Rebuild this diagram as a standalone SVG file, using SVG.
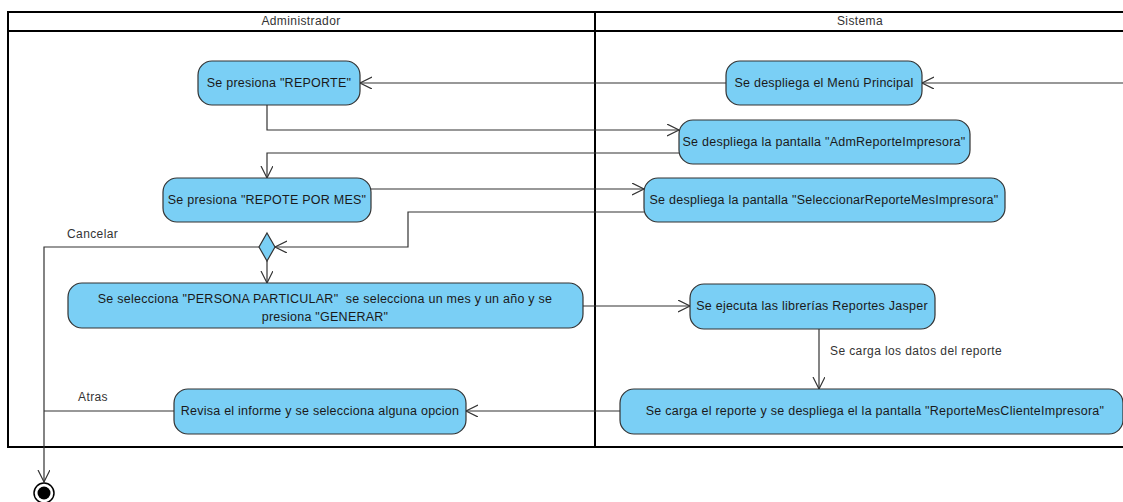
<svg xmlns="http://www.w3.org/2000/svg" width="1123" height="502" viewBox="0 0 1123 502">
<style>
.lane{fill:none;stroke:#000;stroke-width:2}
.act{fill:#7acff5;stroke:#333;stroke-width:1.2}
.t{font-family:"Liberation Sans",Arial,sans-serif;font-size:12.5px;letter-spacing:0.25px;fill:#1a1a1a;text-anchor:middle}
.h{font-family:"Liberation Sans",Arial,sans-serif;font-size:12px;letter-spacing:0.4px;fill:#333;text-anchor:middle}
.lbl{font-family:"Liberation Sans",Arial,sans-serif;font-size:12px;letter-spacing:0.4px;fill:#333}
.c{fill:none;stroke:#333;stroke-width:1.2}
</style>
<defs>
<marker id="arr" markerUnits="userSpaceOnUse" markerWidth="14" markerHeight="14" refX="12" refY="6" orient="auto" viewBox="0 0 14 14">
<path d="M0,0 L12,6 L0,12" fill="none" stroke="#333" stroke-width="1.2"/>
</marker>
</defs>
<rect width="1123" height="502" fill="#fff"/>
<g id="swimlanes">
<path class="lane" d="M1130,12 H8 V447 H1130"/>
<path class="lane" d="M8,31 H1130"/>
<path class="lane" d="M595,12 V447"/>
<text class="h" x="301" y="25">Administrador</text>
<text class="h" x="860" y="25">Sistema</text>
</g>
<g id="connectors">
<path class="c" d="M1123,83 H922" marker-end="url(#arr)"/>
<path class="c" d="M726,83 H360" marker-end="url(#arr)"/>
<path class="c" d="M267,105 V130 H679" marker-end="url(#arr)"/>
<path class="c" d="M679,153 H267 V178" marker-end="url(#arr)"/>
<path class="c" d="M371,189 H644" marker-end="url(#arr)"/>
<path class="c" d="M644,212 H408 V247 H275" marker-end="url(#arr)"/>
<path class="c" d="M267,261 V283" marker-end="url(#arr)"/>
<path class="c" d="M259,247 H44 V482" marker-end="url(#arr)"/>
<path class="c" d="M583,306 H690" marker-end="url(#arr)"/>
<path class="c" d="M819,329 V389" marker-end="url(#arr)"/>
<path class="c" d="M620,411 H466" marker-end="url(#arr)"/>
<path class="c" d="M174,411 H44"/>
<text class="lbl" x="67" y="238">Cancelar</text>
<text class="lbl" x="78" y="401">Atras</text>
<text class="lbl" x="830" y="355">Se carga los datos del reporte</text>
</g>
<g id="n1"><rect class="act" x="198" y="61" width="162" height="44" rx="14"/><text class="t" x="279" y="87">Se presiona "REPORTE"</text></g>
<g id="n2"><rect class="act" x="726" y="61" width="196" height="44" rx="14"/><text class="t" x="824" y="87">Se despliega el Menú Principal</text></g>
<g id="n3"><rect class="act" x="679" y="120" width="291" height="44" rx="14"/><text class="t" x="824" y="146">Se despliega la pantalla "AdmReporteImpresora"</text></g>
<g id="n4"><rect class="act" x="163" y="178" width="208" height="44" rx="14"/><text class="t" x="267" y="204">Se presiona "REPOTE POR MES"</text></g>
<g id="n5"><rect class="act" x="644" y="178" width="361" height="44" rx="14"/><text class="t" x="824" y="204">Se despliega la pantalla "SeleccionarReporteMesImpresora"</text></g>
<g id="decision"><path d="M267,233 L275,247 L267,261 L259,247 Z" fill="#7acff5" stroke="#333" stroke-width="1.2"/></g>
<g id="n6"><rect class="act" x="68" y="283" width="515" height="45" rx="14"/><text class="t" x="325" y="303" xml:space="preserve">Se selecciona "PERSONA PARTICULAR"  se selecciona un mes y un año y se</text><text class="t" x="325" y="321">presiona "GENERAR"</text></g>
<g id="n7"><rect class="act" x="690" y="284" width="245" height="45" rx="14"/><text class="t" x="812" y="310">Se ejecuta las librerías Reportes Jasper</text></g>
<g id="n8"><rect class="act" x="620" y="389" width="503" height="45" rx="14"/><text class="t" x="875" y="415">Se carga el reporte y se despliega el la pantalla "ReporteMesClienteImpresora"</text></g>
<g id="n9"><rect class="act" x="174" y="389" width="292" height="45" rx="14"/><text class="t" x="320" y="415">Revisa el informe y se selecciona alguna opcion</text></g>
<g id="final"><circle cx="44" cy="493" r="10" fill="#fff" stroke="#000" stroke-width="1.5"/><circle cx="44" cy="493" r="6.5" fill="#000"/></g>
</svg>
